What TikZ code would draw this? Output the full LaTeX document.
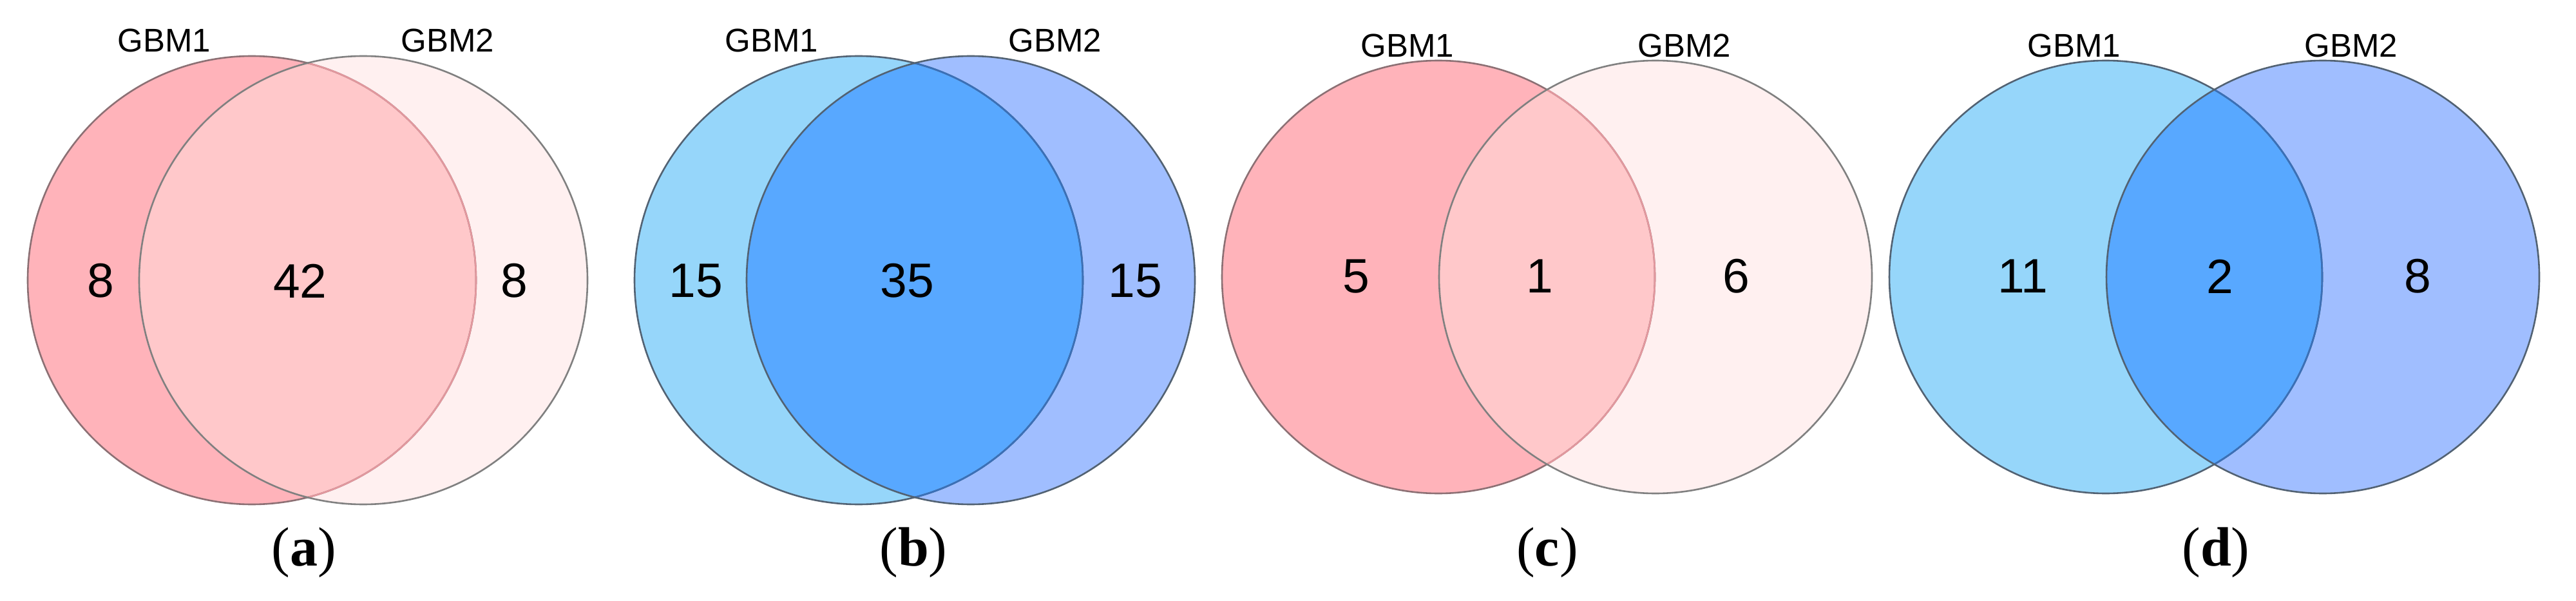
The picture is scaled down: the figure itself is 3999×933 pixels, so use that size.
\documentclass[tikz,border=0pt]{standalone}
\usepackage{fontspec}
\setmainfont{Liberation Serif}
\newfontfamily\arialf{Liberation Sans}
\definecolor{pinkL}{RGB}{255,179,186}
\definecolor{pinkR}{RGB}{255,240,240}
\definecolor{pinkI}{RGB}{255,200,202}
\definecolor{pinkEL}{RGB}{140,112,116}
\definecolor{pinkELens}{RGB}{226,152,158}
\definecolor{pinkER}{RGB}{128,128,128}
\definecolor{blueL}{RGB}{150,214,250}
\definecolor{blueR}{RGB}{160,190,255}
\definecolor{blueI}{RGB}{88,168,255}
\definecolor{blueEL}{RGB}{82,98,115}
\definecolor{blueELens}{RGB}{58,112,184}
\definecolor{blueER}{RGB}{82,98,115}
\newcommand\vennpair[5]{%
  \fill[#5L] (#1,#3) circle[radius=#4pt];
  \fill[#5R] (#2,#3) circle[radius=#4pt];
  \begin{scope}
    \clip (#1,#3) circle[radius=#4pt];
    \fill[#5I] (#2,#3) circle[radius=#4pt];
  \end{scope}
  \draw[#5EL, edge] (#1,#3) circle[radius=#4pt];
  \begin{scope}
    \clip (#2,#3) circle[radius=#4pt];
    \draw[#5ELens, edge] (#1,#3) circle[radius=#4pt];
  \end{scope}
  \draw[#5ER, edge] (#2,#3) circle[radius=#4pt];
}
\tikzset{
  edge/.style={line width=2.6pt},
  setlab/.style={font=\arialf\fontsize{51}{51}\selectfont, inner sep=0pt},
  num/.style={font=\arialf\fontsize{75}{75}\selectfont, inner sep=0pt},
  panel/.style={font=\fontsize{86}{86}\selectfont, inner sep=0pt},
}
\begin{document}
\begin{tikzpicture}[x=1pt,y=-1pt]
\path[use as bounding box] (0,0) rectangle (3999,933);
% (a)
\vennpair{391}{564}{435}{348}{pink}
\node[setlab] (a1) at (255,63) {GBM1};
\node[setlab] (a2) at (695,63) {GBM2};
\node[num] (an1) at (156,436) {8};
\node[num] (an2) at (466,436) {42};
\node[num] (an3) at (798,436) {8};
\node[panel] (pa) at (472,858) {(\textbf{a})};
% (b)
\vennpair{1333}{1507}{435}{348}{blue}
\node[setlab] (b1) at (1198,63) {GBM1};
\node[setlab] (b2) at (1638,63) {GBM2};
\node[num] (bn1) at (1080,436) {15};
\node[num] (bn2) at (1408,436) {35};
\node[num] (bn3) at (1762,436) {15};
\node[panel] (pb) at (1418,858) {(\textbf{b})};
% (c)
\vennpair{2233}{2570}{430}{336}{pink}
\node[setlab] (c1) at (2185,71) {GBM1};
\node[setlab] (c2) at (2615,71) {GBM2};
\node[num] (cn1) at (2105,429) {5};
\node[num] (cn2) at (2390,429) {1};
\node[num] (cn3) at (2695,429) {6};
\node[panel] (pc) at (2402,858) {(\textbf{c})};
% (d)
\vennpair{3269}{3606}{430}{336}{blue}
\node[setlab] (d1) at (3220,71) {GBM1};
\node[setlab] (d2) at (3650,71) {GBM2};
\node[num] (dn1) at (3140,429) {11};
\node[num] (dn2) at (3446,429) {2};
\node[num] (dn3) at (3753,429) {8};
\node[panel] (pd) at (3440,858) {(\textbf{d})};
\end{tikzpicture}
\end{document}
